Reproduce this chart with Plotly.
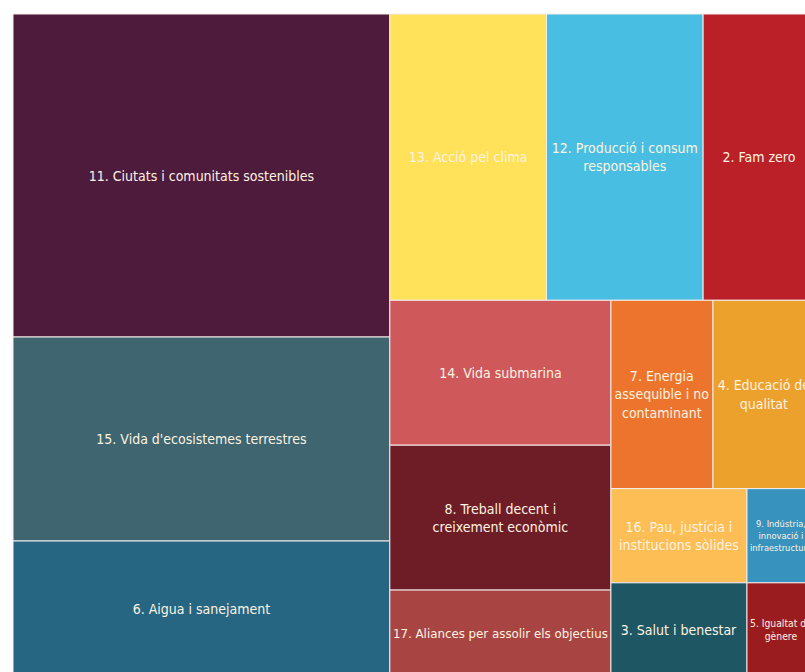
import plotly.graph_objects as go

# Objectius de Desenvolupament Sostenible (nombre d'accions per objectiu)
etiquetes = [
    "11. Ciutats i comunitats sostenibles",
    "15. Vida d'ecosistemes terrestres",
    "6. Aigua i sanejament",
    "13. Acció pel clima",
    "12. Producció i consum responsables",
    "2. Fam zero",
    "14. Vida submarina",
    "8. Treball decent i creixement econòmic",
    "17. Aliances per assolir els objectius",
    "7. Energia assequible i no contaminant",
    "4. Educació de qualitat",
    "16. Pau, justícia i institucions sòlides",
    "3. Salut i benestar",
    "9. Indústria, innovació i infraestructura",
    "5. Igualtat de gènere",
]

# text que es mostra (amb salts de línia)
textos = [
    "11. Ciutats i comunitats sostenibles",
    "15. Vida d'ecosistemes terrestres",
    "6. Aigua i sanejament",
    "13. Acció pel clima",
    "12. Producció i consum<br>responsables",
    "2. Fam zero",
    "14. Vida submarina",
    "8. Treball decent i<br>creixement econòmic",
    "17. Aliances per assolir els objectius",
    "7. Energia<br>assequible i no<br>contaminant",
    "4. Educació de<br>qualitat",
    "16. Pau, justícia i<br>institucions sòlides",
    "3. Salut i benestar",
    "9. Indústria,<br>innovació i<br>infraestructura",
    "5. Igualtat de<br>gènere",
]

valors = [19, 12, 8, 7, 7, 5, 5, 5, 3, 3, 3, 2, 2, 1, 1]

colors = [
    "#4E1B3D", "#3E6570", "#266682", "#FFE15A", "#48BFE2",
    "#BB2029", "#CE585A", "#6E1D27", "#A84543", "#EC742C",
    "#EDA12D", "#FDBE55", "#1F5663", "#3892BE", "#9A1C1F",
]

fig = go.Figure(go.Treemap(
    labels=etiquetes,
    parents=[""] * len(etiquetes),
    values=valors,
    text=textos,
    texttemplate="%{text}",
    textposition="middle center",
    textfont=dict(family="DejaVu Sans Condensed, Liberation Sans Narrow, sans-serif",
                  size=14, color="#FDF3E1"),
    marker=dict(colors=colors, line=dict(width=1, color="#F4EDEA"),
                pad=dict(t=0, l=0, r=0, b=0)),
    tiling=dict(packing="squarify", squarifyratio=1.618034, pad=0),  # proporció àuria (com d3)
    pathbar=dict(visible=False),
    sort=True,
    hoverinfo="label+value",
))

# el treemap és més gran que la finestra: es retalla a la dreta i a baix
fig.update_layout(
    width=815, height=677,
    margin=dict(l=13, t=14, r=0, b=0),
    paper_bgcolor="white",
    showlegend=False,
)

fig.write_html("out.html", config={'displayModeBar': False},
               post_script="document.body.style.margin='0';document.body.style.overflow='hidden';")
